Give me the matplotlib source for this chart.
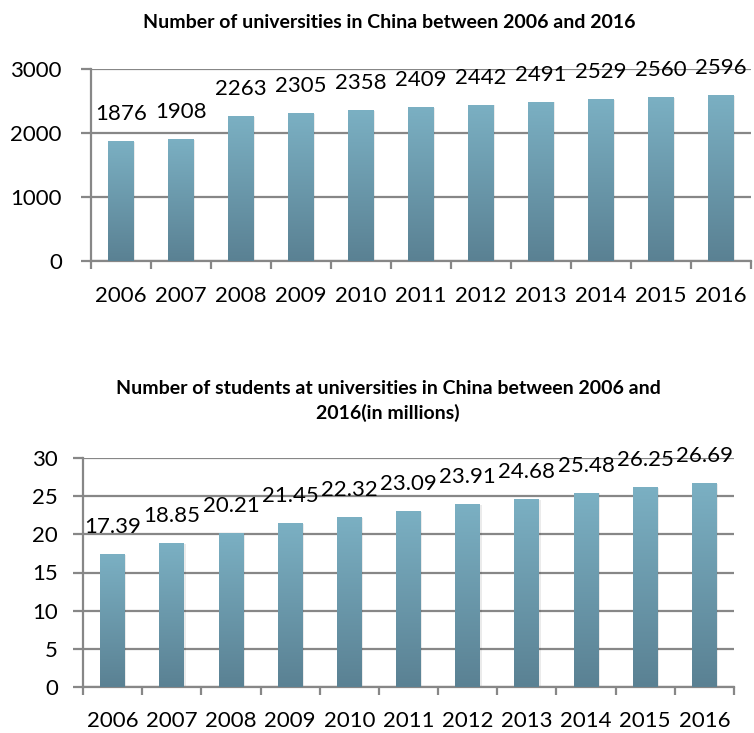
import numpy as np
import matplotlib
matplotlib.use("Agg")
import matplotlib.pyplot as plt
from matplotlib.colors import LinearSegmentedColormap

plt.rcParams['font.family'] = ['Lato', 'DejaVu Sans']

years = ['2006', '2007', '2008', '2009', '2010', '2011', '2012', '2013', '2014', '2015', '2016']
universities = [1876, 1908, 2263, 2305, 2358, 2409, 2442, 2491, 2529, 2560, 2596]
students = [17.39, 18.85, 20.21, 21.45, 22.32, 23.09, 23.91, 24.68, 25.48, 26.25, 26.69]
uni_ticks = [0, 1000, 2000, 3000]
stu_ticks = [0, 5, 10, 15, 20, 25, 30]
label_uni = [str(v) for v in universities]
label_stu = ['%.2f' % v for v in students]

title1 = 'Number of universities in China between 2006 and 2016'
title2 = 'Number of students at universities in China between 2006 and\n2016(in millions)'

GRID = '#878787'
cmap = LinearSegmentedColormap.from_list('bar', ['#5a8193', '#7bb0c3'])
grad = np.linspace(0, 1, 256).reshape(-1, 1)

fig = plt.figure(figsize=(7.54, 7.33), dpi=100)


def draw(ax, values, labels, ticks, ymax, ylabpad, xlabpad):
    x = np.arange(len(values))
    bars = ax.bar(x, values, width=0.42, color='none', edgecolor='none', zorder=3)
    for b in bars:
        x0, w, h = b.get_x(), b.get_width(), b.get_height()
        # soft shadow
        ax.bar(x0 + w / 2 + 0.025, h, width=w, bottom=-ymax * 0.004, color='#000000', alpha=0.08, zorder=2.5)
        im = ax.imshow(grad, cmap=cmap, origin='lower', aspect='auto',
                       extent=(x0, x0 + w, 0, h), zorder=3)
        im.set_clip_path(b)
    for xi, v, lab in zip(x, values, labels):
        ax.annotate(lab, (xi, v), xytext=(0, 27), textcoords='offset pixels',
                    ha='center', va='center', fontsize=16, color='black', zorder=5)
    ax.set_xlim(-0.5, len(values) - 0.5)
    ax.set_ylim(0, ymax)
    ax.set_yticks(ticks)
    ax.set_yticklabels([str(t) for t in ticks], fontsize=16)
    ax.set_xticks(x)
    ax.set_xticklabels(years, fontsize=16)
    ax.set_xticks(np.arange(len(values) + 1) - 0.5, minor=True)
    ax.tick_params(axis='x', which='major', length=0, pad=xlabpad)
    ax.tick_params(axis='x', which='minor', length=6, width=1.6, color=GRID, direction='out')
    ax.tick_params(axis='y', length=7, width=1.6, color=GRID, pad=ylabpad)
    ax.grid(axis='y', color=GRID, linewidth=1.6, zorder=0)
    ax.set_axisbelow(True)
    for s in ['top', 'right']:
        ax.spines[s].set_visible(False)
    for s in ['left', 'bottom']:
        ax.spines[s].set_color(GRID)
        ax.spines[s].set_linewidth(1.6)


ax1 = fig.add_axes([91 / 754, 1 - 261 / 733, 660 / 754, 192 / 733])
draw(ax1, universities, label_uni, uni_ticks, 3000, 14, 18)

ax2 = fig.add_axes([83 / 754, 1 - 687 / 733, 651 / 754, 229 / 733])
draw(ax2, students, label_stu, stu_ticks, 30, 11, 17)

fig.text(389 / 754, 1 - 22.5 / 733, title1, ha='center', va='center', fontsize=14, fontweight='bold')
fig.text(388 / 754, 1 - 401 / 733, title2, ha='center', va='center', fontsize=14, fontweight='bold',
         linespacing=1.5)

fig.savefig('out.png', dpi=100)
